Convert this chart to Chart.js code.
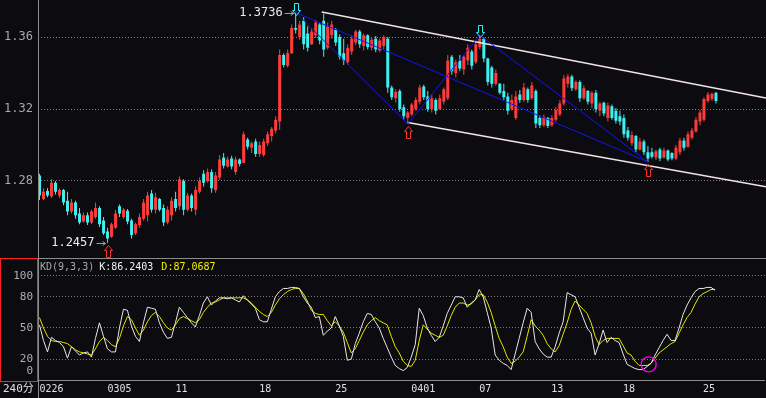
<!DOCTYPE html>
<html>
<head>
<meta charset="utf-8">
<script src="https://cdn.jsdelivr.net/npm/chart.js@4.4.1/dist/chart.umd.min.js"></script>
<style>
  html, body { margin: 0; padding: 0; background: #0c0b0f; }
  #wrap { position: relative; width: 766px; height: 398px; overflow: hidden; }
  #priceBox { position: absolute; left: 0; top: 0; width: 766px; height: 258px; }
  #kdBox { position: absolute; left: 0; top: 258px; width: 766px; height: 140px; }
</style>
</head>
<body>
<div id="wrap">
  <div id="priceBox"><canvas id="price"></canvas></div>
  <div id="kdBox"><canvas id="kd"></canvas></div>
</div>
<script>
// 240-minute bars, 0226 .. 0425
const slotCount = 182;
const dateTicks = { 0: '0226', 17: '0305', 34: '11', 55: '18', 74: '25', 93: '0401', 110: '07', 128: '13', 146: '18', 166: '25' };

const opens = [
  1.2830,1.2700,1.2745,1.2715,1.2790,1.2720,1.2750,1.2690,1.2630,1.2680,
  1.2620,1.2575,1.2610,1.2570,1.2600,1.2650,1.2580,1.2520,1.2490,1.2540,
  1.2660,1.2600,1.2635,1.2580,1.2510,1.2555,1.2590,1.2610,1.2730,1.2640,
  1.2700,1.2650,1.2570,1.2610,1.2700,1.2660,1.2800,1.2640,1.2720,1.2640,
  1.2740,1.2840,1.2800,1.2850,1.2750,1.2820,1.2930,1.2880,1.2925,1.2850,
  1.2920,1.2900,1.3030,1.2985,1.3020,1.2950,1.2945,1.3010,1.3050,1.3080,
  1.3130,1.3500,1.3440,1.3510,1.3650,1.3600,1.3690,1.3620,1.3560,1.3610,
  1.3670,1.3690,1.3540,1.3610,1.3640,1.3600,1.3510,1.3460,1.3520,1.3570,
  1.3630,1.3550,1.3610,1.3540,1.3590,1.3525,1.3550,1.3590,1.3320,1.3260,
  1.3300,1.3210,1.3150,1.3170,1.3200,1.3240,1.3325,1.3270,1.3200,1.3250,
  1.3200,1.3240,1.3260,1.3490,1.3400,1.3470,1.3420,1.3470,1.3520,1.3460,
  1.3545,1.3590,1.3480,1.3430,1.3340,1.3340,1.3300,1.3270,1.3200,1.3150,
  1.3280,1.3250,1.3310,1.3260,1.3300,1.3150,1.3110,1.3150,1.3110,1.3140,
  1.3170,1.3230,1.3340,1.3380,1.3310,1.3350,1.3260,1.3300,1.3230,1.3290,
  1.3190,1.3235,1.3150,1.3215,1.3190,1.3160,1.3150,1.3080,1.3010,1.3050,
  1.2975,1.3020,1.2960,1.2960,1.2930,1.2975,1.2930,1.2970,1.2955,1.2925,
  1.2960,1.3025,1.2990,1.3040,1.3075,1.3130,1.3140,1.3245,1.3255,1.3290
];
const highs = [
  1.2840,1.2760,1.2760,1.2810,1.2800,1.2760,1.2755,1.2740,1.2700,1.2690,
  1.2650,1.2625,1.2625,1.2640,1.2680,1.2660,1.2600,1.2540,1.2570,1.2640,
  1.2670,1.2650,1.2645,1.2590,1.2570,1.2620,1.2700,1.2740,1.2750,1.2735,
  1.2705,1.2670,1.2660,1.2710,1.2740,1.2825,1.2810,1.2735,1.2730,1.2770,
  1.2820,1.2860,1.2870,1.2865,1.2850,1.2945,1.2955,1.2935,1.2940,1.2935,
  1.2925,1.3075,1.3040,1.3020,1.3035,1.3020,1.3035,1.3075,1.3100,1.3160,
  1.3530,1.3510,1.3530,1.3670,1.3736,1.3690,1.3710,1.3660,1.3650,1.3695,
  1.3680,1.3730,1.3680,1.3690,1.3650,1.3615,1.3590,1.3560,1.3610,1.3640,
  1.3640,1.3620,1.3615,1.3595,1.3605,1.3590,1.3610,1.3600,1.3330,1.3310,
  1.3310,1.3225,1.3190,1.3235,1.3265,1.3335,1.3335,1.3300,1.3280,1.3260,
  1.3280,1.3320,1.3500,1.3500,1.3475,1.3500,1.3500,1.3560,1.3530,1.3575,
  1.3610,1.3600,1.3485,1.3440,1.3420,1.3345,1.3340,1.3290,1.3280,1.3300,
  1.3305,1.3345,1.3320,1.3350,1.3310,1.3165,1.3170,1.3155,1.3165,1.3210,
  1.3250,1.3390,1.3395,1.3390,1.3360,1.3360,1.3330,1.3305,1.3300,1.3305,
  1.3240,1.3240,1.3235,1.3225,1.3205,1.3190,1.3170,1.3100,1.3075,1.3055,
  1.3040,1.3030,1.2995,1.2985,1.2975,1.2985,1.2985,1.2975,1.2960,1.3000,
  1.3040,1.3040,1.3075,1.3095,1.3155,1.3195,1.3265,1.3295,1.3290,1.3295
];
const lows = [
  1.2694,1.2694,1.2710,1.2705,1.2725,1.2705,1.2665,1.2610,1.2620,1.2590,
  1.2560,1.2570,1.2555,1.2560,1.2590,1.2545,1.2500,1.2457,1.2485,1.2535,
  1.2600,1.2590,1.2560,1.2480,1.2500,1.2540,1.2580,1.2575,1.2625,1.2620,
  1.2630,1.2550,1.2560,1.2580,1.2630,1.2640,1.2610,1.2630,1.2630,1.2610,
  1.2730,1.2770,1.2790,1.2735,1.2735,1.2805,1.2870,1.2875,1.2865,1.2835,
  1.2880,1.2900,1.2975,1.2955,1.2935,1.2935,1.2935,1.2995,1.3020,1.3065,
  1.3085,1.3430,1.3430,1.3505,1.3620,1.3585,1.3530,1.3520,1.3555,1.3595,
  1.3560,1.3490,1.3530,1.3590,1.3550,1.3475,1.3445,1.3445,1.3500,1.3555,
  1.3540,1.3525,1.3530,1.3525,1.3515,1.3515,1.3530,1.3290,1.3250,1.3235,
  1.3185,1.3140,1.3117,1.3160,1.3190,1.3225,1.3250,1.3185,1.3180,1.3170,
  1.3195,1.3225,1.3250,1.3390,1.3375,1.3410,1.3390,1.3445,1.3420,1.3450,
  1.3530,1.3460,1.3330,1.3320,1.3330,1.3280,1.3250,1.3170,1.3190,1.3140,
  1.3235,1.3240,1.3235,1.3250,1.3095,1.3095,1.3100,1.3095,1.3100,1.3130,
  1.3160,1.3220,1.3320,1.3300,1.3300,1.3240,1.3250,1.3225,1.3205,1.3180,
  1.3160,1.3160,1.3130,1.3140,1.3120,1.3110,1.3040,1.3025,1.2995,1.2960,
  1.2970,1.2945,1.2906,1.2925,1.2915,1.2910,1.2925,1.2910,1.2915,1.2915,
  1.2945,1.2970,1.2985,1.3030,1.3070,1.3110,1.3130,1.3235,1.3245,1.3230
];
const closes = [
  1.2720,1.2740,1.2720,1.2790,1.2740,1.2750,1.2680,1.2630,1.2680,1.2610,
  1.2570,1.2610,1.2570,1.2630,1.2650,1.2560,1.2510,1.2480,1.2560,1.2620,
  1.2620,1.2640,1.2575,1.2500,1.2560,1.2600,1.2680,1.2720,1.2640,1.2710,
  1.2640,1.2570,1.2640,1.2690,1.2650,1.2810,1.2640,1.2720,1.2650,1.2750,
  1.2800,1.2790,1.2850,1.2760,1.2830,1.2920,1.2885,1.2920,1.2880,1.2920,
  1.2895,1.3060,1.2990,1.3010,1.2950,1.3000,1.3020,1.3060,1.3090,1.3140,
  1.3500,1.3445,1.3510,1.3650,1.3640,1.3670,1.3560,1.3540,1.3630,1.3680,
  1.3580,1.3530,1.3660,1.3670,1.3570,1.3490,1.3470,1.3540,1.3590,1.3630,
  1.3560,1.3610,1.3545,1.3585,1.3530,1.3580,1.3600,1.3320,1.3265,1.3295,
  1.3200,1.3160,1.3180,1.3225,1.3250,1.3320,1.3265,1.3200,1.3260,1.3190,
  1.3260,1.3310,1.3470,1.3410,1.3460,1.3425,1.3490,1.3540,1.3440,1.3560,
  1.3590,1.3480,1.3350,1.3340,1.3400,1.3290,1.3265,1.3190,1.3250,1.3270,
  1.3250,1.3320,1.3250,1.3330,1.3120,1.3110,1.3155,1.3105,1.3150,1.3195,
  1.3230,1.3370,1.3380,1.3315,1.3350,1.3260,1.3315,1.3240,1.3290,1.3200,
  1.3230,1.3175,1.3220,1.3150,1.3135,1.3130,1.3060,1.3040,1.3055,1.2975,
  1.3020,1.2960,1.2925,1.2935,1.2965,1.2925,1.2970,1.2920,1.2925,1.2985,
  1.3025,1.2985,1.3060,1.3080,1.3140,1.3180,1.3255,1.3280,1.3285,1.3245
];

const kValues = [
  53,38,27,41,38,36,32,21,32,28,
  24,26,27,22,40,55,42,30,27,27,
  50,68,67,52,42,37,55,70,69,68,
  55,46,40,41,55,70,65,60,55,51,
  62,74,80,72,76,79,79,78,79,77,
  75,81,77,73,69,58,56,56,68,80,
  85,88,88,89,89,88,80,74,70,60,
  61,43,47,50,61,52,42,19,20,35,
  45,56,64,63,56,50,40,31,22,14,
  11,9,12,22,34,69,62,50,43,37,
  41,52,64,72,80,80,79,70,74,77,
  87,80,65,50,24,19,16,14,10,25,
  40,55,69,65,37,30,25,22,22,32,
  45,56,84,82,80,70,60,50,45,24,
  35,48,36,41,38,36,25,15,13,11,
  10,10,13,16,24,31,38,44,38,38,
  50,63,72,79,85,88,88,89,89,86.2403
];
const dValues = [
  60,50,42,38,37,37,36,35,32,29,
  27,26,25,24,30,37,41,38,34,32,
  40,52,61,58,50,43,48,56,62,65,
  61,55,50,48,53,59,61,59,57,55,
  58,65,70,74,75,77,79,79,79,79,
  79,79,77,74,70,66,63,61,65,72,
  78,82,85,87,88,88,83,76,67,64,
  63,63,57,52,56,52,46,36,26,30,
  38,46,53,57,60,57,55,53,42,32,
  26,18,14,13,19,38,53,49,45,43,
  41,43,52,62,70,74,74,72,73,77,
  82,82,75,65,52,40,32,22,16,18,
  22,27,42,58,52,48,43,35,30,27,
  33,44,55,68,76,72,68,64,55,42,
  34,38,40,40,40,40,33,26,24,18,
  14,14,14,16,21,26,29,32,35,37,
  45,53,60,65,73,80,83,85,87,87.0687
];

const priceTicks = [1.28, 1.32, 1.36];
const kdTicks = [0, 20, 50, 80, 100];
const priceMin = 1.23722, priceMax = 1.38056;
const kdMax = 117.3;

// turning points, channel and links between them
const pivots = [
  { i: 17, type: 'low' }, { i: 64, type: 'high' }, { i: 92, type: 'low' },
  { i: 110, type: 'high' }, { i: 152, type: 'low' }
];
const channelUpper = [[70.5, 1.3739], [181.5, 1.3261]];
const channelLower = [[92, 1.3125], [181.5, 1.2768]];
const blueLinks = [[64, 92], [64, 152], [92, 110], [110, 152]];
const kdMarker = { i: 152.4, v: 15 };
const kdTitle = 'KD(9,3,3)';

const UP = '#ff3c3c';
const DOWN = '#3ff0f0';
const MONO = '"DejaVu Sans Mono", monospace';

const categories = Array.from({ length: slotCount }, (_, i) => dateTicks[i] || '');
const candleColors = closes.map((c, i) => (c >= opens[i] ? UP : DOWN));

function pivotPrice(i) {
  const p = pivots.find(pv => pv.i === i);
  return p.type === 'high' ? highs[i] : lows[i];
}

function hollowArrow(ctx, px, tipY, dir, color) {
  // dir 1: tip on top, body below; dir -1: tip at bottom, body above
  const cx = Math.round(px) + 0.5;
  const t = Math.round(tipY) + 0.5;
  ctx.beginPath();
  ctx.moveTo(cx, t);
  ctx.lineTo(cx + 4, t + 5 * dir);
  ctx.lineTo(cx + 2, t + 5 * dir);
  ctx.lineTo(cx + 2, t + 12 * dir);
  ctx.lineTo(cx - 2, t + 12 * dir);
  ctx.lineTo(cx - 2, t + 5 * dir);
  ctx.lineTo(cx - 4, t + 5 * dir);
  ctx.closePath();
  ctx.strokeStyle = color;
  ctx.lineWidth = 1;
  ctx.stroke();
}

function extremeLabel(ctx, px, py, text) {
  ctx.font = '12px ' + MONO;
  ctx.fillStyle = '#ececec';
  ctx.textAlign = 'right';
  ctx.textBaseline = 'middle';
  ctx.fillText(text, px - 13, py);
  const yy = Math.round(py) + 0.5;
  ctx.strokeStyle = '#a0a0a0';
  ctx.lineWidth = 1;
  ctx.beginPath();
  ctx.moveTo(px - 11, yy); ctx.lineTo(px - 2, yy);
  ctx.moveTo(px - 5, yy - 2); ctx.lineTo(px - 2, yy); ctx.lineTo(px - 5, yy + 2);
  ctx.stroke();
}

const priceDecor = {
  id: 'priceDecor',
  afterDatasetsDraw(chart) {
    const { ctx, scales: { x, y } } = chart;
    ctx.save();

    // channel
    ctx.strokeStyle = '#f3e3e3';
    ctx.lineWidth = 1.6;
    [channelUpper, channelLower].forEach(seg => {
      ctx.beginPath();
      ctx.moveTo(x.getPixelForValue(seg[0][0]), y.getPixelForValue(seg[0][1]));
      ctx.lineTo(x.getPixelForValue(seg[1][0]), y.getPixelForValue(seg[1][1]));
      ctx.stroke();
    });

    // blue links
    ctx.strokeStyle = '#1414f5';
    ctx.lineWidth = 1;
    blueLinks.forEach(([a, b]) => {
      ctx.beginPath();
      ctx.moveTo(x.getPixelForValue(a), y.getPixelForValue(pivotPrice(a)));
      ctx.lineTo(x.getPixelForValue(b), y.getPixelForValue(pivotPrice(b)));
      ctx.stroke();
    });

    // arrows
    pivots.forEach(p => {
      const px = x.getPixelForValue(p.i);
      if (p.type === 'low') hollowArrow(ctx, px, y.getPixelForValue(lows[p.i]) + 2, 1, '#ff3030');
      else hollowArrow(ctx, px, y.getPixelForValue(highs[p.i]) + 2, -1, '#30f0f0');
    });

    // highest / lowest labels
    const hi = Math.max(...highs), lo = Math.min(...lows);
    const hiIdx = highs.indexOf(hi), loIdx = lows.indexOf(lo);
    extremeLabel(ctx, x.getPixelForValue(hiIdx), y.getPixelForValue(hi), hi.toFixed(4));
    extremeLabel(ctx, x.getPixelForValue(loIdx), y.getPixelForValue(lo), lo.toFixed(4));

    // axis line + labels
    ctx.strokeStyle = '#8c8c8c';
    ctx.beginPath(); ctx.moveTo(38.5, 0); ctx.lineTo(38.5, chart.height); ctx.stroke();
    ctx.font = '12px ' + MONO;
    ctx.fillStyle = '#a8a8a8';
    ctx.textAlign = 'right';
    ctx.textBaseline = 'middle';
    priceTicks.forEach(v => ctx.fillText(v.toFixed(2), 33, y.getPixelForValue(v)));
    ctx.restore();
  }
};

const kdDecor = {
  id: 'kdDecor',
  afterDraw(chart) {
    const { ctx, scales: { x, y }, chartArea: a } = chart;
    ctx.save();
    ctx.lineWidth = 1;
    ctx.strokeStyle = '#8c8c8c';
    ctx.beginPath();
    ctx.moveTo(38, 0.5); ctx.lineTo(chart.width, 0.5);
    ctx.moveTo(38.5, 0); ctx.lineTo(38.5, chart.height);
    ctx.stroke();

    ctx.strokeStyle = '#ff2020';
    ctx.strokeRect(0.5, 0.5, 37, a.bottom + 1);

    ctx.font = '11px ' + MONO;
    ctx.fillStyle = '#b0b0b0';
    ctx.textAlign = 'right';
    ctx.textBaseline = 'middle';
    kdTicks.forEach(v => ctx.fillText(String(v), 33, Math.min(y.getPixelForValue(v), a.bottom - 9)));

    // title line
    ctx.font = '10px ' + MONO;
    ctx.textAlign = 'left';
    let tx = 40;
    const kText = 'K:' + kValues[kValues.length - 1].toFixed(4);
    const dText = 'D:' + dValues[dValues.length - 1].toFixed(4);
    ctx.fillStyle = '#a8a8a8'; ctx.fillText(kdTitle, tx, 9);
    tx += ctx.measureText(kdTitle).width + 5;
    ctx.fillStyle = '#f2f2f2'; ctx.fillText(kText, tx, 9);
    tx += ctx.measureText(kText).width + 8;
    ctx.fillStyle = '#f0f000'; ctx.fillText(dText, tx, 9);

    // marker circle
    ctx.strokeStyle = '#f000f0';
    ctx.lineWidth = 1.4;
    ctx.beginPath();
    ctx.arc(x.getPixelForValue(kdMarker.i), y.getPixelForValue(kdMarker.v), 7.5, 0, Math.PI * 2);
    ctx.stroke();

    ctx.font = '11px ' + MONO + ', "Noto Sans CJK SC"';
    ctx.fillStyle = '#e0e0e0';
    ctx.fillText('240分', 3, 131);
    ctx.restore();
  }
};

new Chart(document.getElementById('price'), {
  type: 'bar',
  data: {
    labels: categories,
    datasets: [
      { label: 'wick', data: lows.map((l, i) => [l, highs[i]]), backgroundColor: candleColors,
        barThickness: 1, grouped: false, inflateAmount: 0, order: 2 },
      { label: 'body', data: opens.map((o, i) => [o, closes[i]]), backgroundColor: candleColors,
        barThickness: 3, grouped: false, inflateAmount: 0, minBarLength: 1, order: 1 }
    ]
  },
  options: {
    responsive: true,
    maintainAspectRatio: false,
    animation: false,
    devicePixelRatio: 1,
    events: [],
    layout: { padding: 0 },
    plugins: { legend: { display: false }, tooltip: { enabled: false } },
    scales: {
      x: { display: false, offset: true },
      y: {
        min: priceMin, max: priceMax,
        afterFit: s => { s.width = 37.5; },
        afterBuildTicks: s => { s.ticks = priceTicks.map(v => ({ value: v })); },
        ticks: { display: false },
        grid: { color: '#7c7c7c', drawTicks: false, lineWidth: 1 },
        border: { display: false, dash: [1, 2] }
      }
    }
  },
  plugins: [priceDecor]
});

new Chart(document.getElementById('kd'), {
  type: 'line',
  data: {
    labels: categories,
    datasets: [
      { label: 'K', data: kValues, borderColor: '#e8e8e8', borderWidth: 1, pointRadius: 0, tension: 0 },
      { label: 'D', data: dValues, borderColor: '#e6e600', borderWidth: 1, pointRadius: 0, tension: 0 }
    ]
  },
  options: {
    responsive: true,
    maintainAspectRatio: false,
    animation: false,
    devicePixelRatio: 1,
    events: [],
    layout: { padding: 0 },
    plugins: { legend: { display: false }, tooltip: { enabled: false } },
    scales: {
      x: {
        offset: true,
        afterFit: s => { s.height = 18; },
        grid: { display: false, drawTicks: false },
        border: { display: true, color: '#8c8c8c' },
        ticks: { autoSkip: false, maxRotation: 0, minRotation: 0, align: 'start', padding: 3,
                 color: '#e0e0e0', font: { family: MONO, size: 10, lineHeight: 1.2 } }
      },
      y: {
        min: 0, max: kdMax,
        afterFit: s => { s.width = 37.5; },
        afterBuildTicks: s => { s.ticks = kdTicks.map(v => ({ value: v })); },
        ticks: { display: false },
        grid: { color: c => (c.tick && c.tick.value === 0 ? 'rgba(0,0,0,0)' : '#7c7c7c'), drawTicks: false },
        border: { display: false, dash: [1, 2] }
      }
    }
  },
  plugins: [kdDecor]
});
</script>
</body>
</html>
